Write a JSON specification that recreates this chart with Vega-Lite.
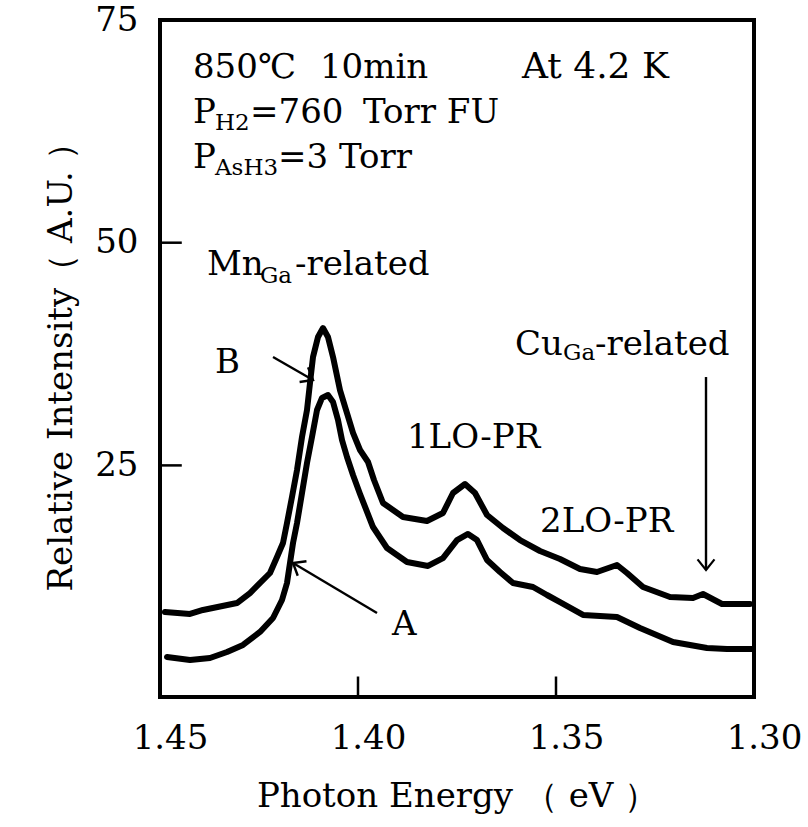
{
  "$schema": "https://vega.github.io/schema/vega-lite/v6.json",
  "width": 594,
  "height": 677,
  "autosize": {"type": "none"},
  "padding": {"left": 160, "top": 20, "right": 54, "bottom": 130},
  "background": "white",
  "config": {
    "view": {"stroke": "black", "strokeWidth": 4},
    "axis": {
      "grid": false,
      "domain": false,
      "ticks": false,
      "labelFont": "DejaVu Serif",
      "titleFont": "DejaVu Serif",
      "labelFontSize": 34,
      "titleFontSize": 34,
      "labelColor": "black",
      "titleColor": "black",
      "titleFontWeight": "normal"
    }
  },
  "datasets": {
    "curves": [
      {"series": "B", "e": 1.44874, "i": 8.54},
      {"series": "B", "e": 1.44242, "i": 8.32},
      {"series": "B", "e": 1.43914, "i": 8.77},
      {"series": "B", "e": 1.43056, "i": 9.55},
      {"series": "B", "e": 1.42727, "i": 10.67},
      {"series": "B", "e": 1.42222, "i": 12.92},
      {"series": "B", "e": 1.42045, "i": 14.72},
      {"series": "B", "e": 1.41894, "i": 16.29},
      {"series": "B", "e": 1.41793, "i": 18.53},
      {"series": "B", "e": 1.41667, "i": 21.45},
      {"series": "B", "e": 1.4154, "i": 24.48},
      {"series": "B", "e": 1.41414, "i": 28.19},
      {"series": "B", "e": 1.41288, "i": 31.22},
      {"series": "B", "e": 1.41212, "i": 34.25},
      {"series": "B", "e": 1.41136, "i": 37.17},
      {"series": "B", "e": 1.4101, "i": 39.41},
      {"series": "B", "e": 1.40884, "i": 40.42},
      {"series": "B", "e": 1.40758, "i": 39.41},
      {"series": "B", "e": 1.40631, "i": 37.17},
      {"series": "B", "e": 1.40455, "i": 33.46},
      {"series": "B", "e": 1.40278, "i": 30.88},
      {"series": "B", "e": 1.40126, "i": 28.64},
      {"series": "B", "e": 1.39949, "i": 26.73},
      {"series": "B", "e": 1.39747, "i": 25.38},
      {"series": "B", "e": 1.39596, "i": 23.36},
      {"series": "B", "e": 1.39369, "i": 20.78},
      {"series": "B", "e": 1.38864, "i": 19.21},
      {"series": "B", "e": 1.38258, "i": 18.76},
      {"series": "B", "e": 1.37854, "i": 19.66},
      {"series": "B", "e": 1.37601, "i": 21.9},
      {"series": "B", "e": 1.37298, "i": 22.91},
      {"series": "B", "e": 1.37045, "i": 21.9},
      {"series": "B", "e": 1.36742, "i": 19.43},
      {"series": "B", "e": 1.36338, "i": 17.97},
      {"series": "B", "e": 1.35909, "i": 16.62},
      {"series": "B", "e": 1.35404, "i": 15.39},
      {"series": "B", "e": 1.34899, "i": 14.49},
      {"series": "B", "e": 1.34394, "i": 13.37},
      {"series": "B", "e": 1.33965, "i": 13.03},
      {"series": "B", "e": 1.3346, "i": 13.82},
      {"series": "B", "e": 1.33207, "i": 12.92},
      {"series": "B", "e": 1.32803, "i": 11.35},
      {"series": "B", "e": 1.32121, "i": 10.23},
      {"series": "B", "e": 1.3154, "i": 10.11},
      {"series": "B", "e": 1.31288, "i": 10.56},
      {"series": "B", "e": 1.30808, "i": 9.44},
      {"series": "B", "e": 1.30101, "i": 9.44},
      {"series": "A", "e": 1.44823, "i": 3.49},
      {"series": "A", "e": 1.44242, "i": 3.15},
      {"series": "A", "e": 1.43737, "i": 3.38},
      {"series": "A", "e": 1.43308, "i": 4.05},
      {"series": "A", "e": 1.42904, "i": 4.84},
      {"series": "A", "e": 1.42475, "i": 6.3},
      {"series": "A", "e": 1.42146, "i": 7.87},
      {"series": "A", "e": 1.41919, "i": 9.89},
      {"series": "A", "e": 1.41793, "i": 11.8},
      {"series": "A", "e": 1.41717, "i": 14.04},
      {"series": "A", "e": 1.41641, "i": 16.29},
      {"series": "A", "e": 1.4154, "i": 18.53},
      {"series": "A", "e": 1.41414, "i": 21.9},
      {"series": "A", "e": 1.41288, "i": 25.27},
      {"series": "A", "e": 1.41162, "i": 28.19},
      {"series": "A", "e": 1.41035, "i": 31.22},
      {"series": "A", "e": 1.40909, "i": 32.57},
      {"series": "A", "e": 1.40758, "i": 32.9},
      {"series": "A", "e": 1.40631, "i": 32.12},
      {"series": "A", "e": 1.40505, "i": 30.1},
      {"series": "A", "e": 1.40404, "i": 27.85},
      {"series": "A", "e": 1.40278, "i": 25.94},
      {"series": "A", "e": 1.40126, "i": 23.92},
      {"series": "A", "e": 1.39949, "i": 21.79},
      {"series": "A", "e": 1.39621, "i": 18.08},
      {"series": "A", "e": 1.39268, "i": 15.73},
      {"series": "A", "e": 1.38763, "i": 14.15},
      {"series": "A", "e": 1.38232, "i": 13.71},
      {"series": "A", "e": 1.37854, "i": 14.6},
      {"series": "A", "e": 1.375, "i": 16.62},
      {"series": "A", "e": 1.37222, "i": 17.3},
      {"series": "A", "e": 1.36995, "i": 16.62},
      {"series": "A", "e": 1.36742, "i": 14.38},
      {"series": "A", "e": 1.36414, "i": 13.03},
      {"series": "A", "e": 1.36086, "i": 11.8},
      {"series": "A", "e": 1.35581, "i": 11.35},
      {"series": "A", "e": 1.35227, "i": 10.45},
      {"series": "A", "e": 1.34899, "i": 9.66},
      {"series": "A", "e": 1.34318, "i": 8.21},
      {"series": "A", "e": 1.3346, "i": 7.98},
      {"series": "A", "e": 1.32879, "i": 6.75},
      {"series": "A", "e": 1.32045, "i": 5.17},
      {"series": "A", "e": 1.31187, "i": 4.5},
      {"series": "A", "e": 1.30682, "i": 4.39},
      {"series": "A", "e": 1.30051, "i": 4.39}
    ],
    "xticks": [
      {"e": 1.4, "i": -1, "i2": 1.3},
      {"e": 1.35, "i": -1, "i2": 1.3}
    ],
    "yticks": [
      {"e": 1.45, "e2": 1.4445, "i": 25},
      {"e": 1.45, "e2": 1.4445, "i": 50}
    ],
    "arrows": [
      {"name": "B", "e": 1.42146, "i": 37.17, "e2": 1.41136, "i2": 34.59},
      {"name": "A", "e": 1.3952, "i": 8.43, "e2": 1.41641, "i2": 14.04},
      {"name": "Cu", "e": 1.31212, "i": 34.92, "e2": 1.31212, "i2": 13.26}
    ],
    "heads": [
      {"name": "B", "e": 1.41136, "i": 34.59},
      {"name": "A", "e": 1.41641, "i": 14.04},
      {"name": "Cu", "e": 1.31212, "i": 13.26}
    ],
    "labels": [
      {"text": "850℃", "e": 1.44167, "i": 68.49},
      {"text": "10min", "e": 1.4096, "i": 68.49},
      {"text": "P", "e": 1.44167, "i": 63.44},
      {"text": "=760", "e": 1.42727, "i": 63.44},
      {"text": "Torr FU", "e": 1.39874, "i": 63.44},
      {"text": "P", "e": 1.44167, "i": 58.39},
      {"text": "=3 Torr", "e": 1.4202, "i": 58.39},
      {"text": "Mn", "e": 1.43813, "i": 46.37},
      {"text": "-related", "e": 1.41591, "i": 46.37},
      {"text": "B", "e": 1.43611, "i": 35.37},
      {"text": "1LO-PR", "e": 1.38763, "i": 26.95},
      {"text": "2LO-PR", "e": 1.35404, "i": 17.52},
      {"text": "Cu", "e": 1.36035, "i": 37.39},
      {"text": "-related", "e": 1.34015, "i": 37.39},
      {"text": "A", "e": 1.39141, "i": 5.96}
    ],
    "big": [
      {"text": "At 4.2 K", "e": 1.35859, "i": 68.49}
    ],
    "subs": [
      {"text": "H2", "e": 1.43611, "i": 62.65},
      {"text": "AsH3", "e": 1.43611, "i": 57.6},
      {"text": "Ga", "e": 1.42475, "i": 45.48},
      {"text": "Ga", "e": 1.34823, "i": 36.83}
    ]
  },
  "encoding": {
    "x": {
      "field": "e",
      "type": "quantitative",
      "title": "Photon Energy （ eV ）",
      "scale": {"domain": [1.3, 1.45], "reverse": true, "nice": false, "zero": false},
      "axis": {
        "values": [1.45, 1.4, 1.35, 1.3],
        "format": ".2f",
        "labelFlush": false,
        "labelPadding": 24,
        "labelOffset": 10,
        "labelBaseline": "top",
        "titlePadding": 24
      }
    },
    "y": {
      "field": "i",
      "type": "quantitative",
      "title": "Relative Intensity（ A.U. ）",
      "scale": {"domain": [-1, 75], "nice": false, "zero": false},
      "axis": {
        "values": [25, 50, 75],
        "labelPadding": 22,
        "titlePadding": 16
      }
    }
  },
  "layer": [
    {
      "data": {"name": "curves"},
      "mark": {"type": "line", "color": "black", "strokeWidth": 6, "strokeJoin": "round", "strokeCap": "round", "clip": true},
      "encoding": {"detail": {"field": "series", "type": "nominal"}}
    },
    {
      "data": {"name": "xticks"},
      "mark": {"type": "rule", "color": "black", "strokeWidth": 2.5},
      "encoding": {"y2": {"field": "i2"}}
    },
    {
      "data": {"name": "yticks"},
      "mark": {"type": "rule", "color": "black", "strokeWidth": 2.5},
      "encoding": {"x2": {"field": "e2"}}
    },
    {
      "data": {"name": "arrows"},
      "mark": {"type": "rule", "color": "black", "strokeWidth": 2.4},
      "encoding": {
        "x2": {"field": "e2"},
        "y2": {"field": "i2"}
      }
    },
    {
      "data": {"name": "heads"},
      "transform": [{"filter": "datum.name === 'B'"}],
      "mark": {"type": "point", "shape": "M -1 -0.8 L 0 0 L -1 0.8", "filled": false, "stroke": "black", "strokeWidth": 2.4, "size": 450, "angle": 30, "opacity": 1}
    },
    {
      "data": {"name": "heads"},
      "transform": [{"filter": "datum.name === 'A'"}],
      "mark": {"type": "point", "shape": "M -1 -0.8 L 0 0 L -1 0.8", "filled": false, "stroke": "black", "strokeWidth": 2.4, "size": 450, "angle": 211, "opacity": 1}
    },
    {
      "data": {"name": "heads"},
      "transform": [{"filter": "datum.name === 'Cu'"}],
      "mark": {"type": "point", "shape": "M -1 -0.8 L 0 0 L -1 0.8", "filled": false, "stroke": "black", "strokeWidth": 2.2, "size": 450, "angle": 90, "opacity": 1}
    },
    {
      "data": {"name": "labels"},
      "mark": {"type": "text", "font": "DejaVu Serif", "fontSize": 34, "align": "left", "baseline": "alphabetic", "color": "black"},
      "encoding": {"text": {"field": "text"}}
    },
    {
      "data": {"name": "big"},
      "mark": {"type": "text", "font": "DejaVu Serif", "fontSize": 36, "align": "left", "baseline": "alphabetic", "color": "black"},
      "encoding": {"text": {"field": "text"}}
    },
    {
      "data": {"name": "subs"},
      "mark": {"type": "text", "font": "DejaVu Serif", "fontSize": 23, "align": "left", "baseline": "alphabetic", "color": "black"},
      "encoding": {"text": {"field": "text"}}
    }
  ]
}
